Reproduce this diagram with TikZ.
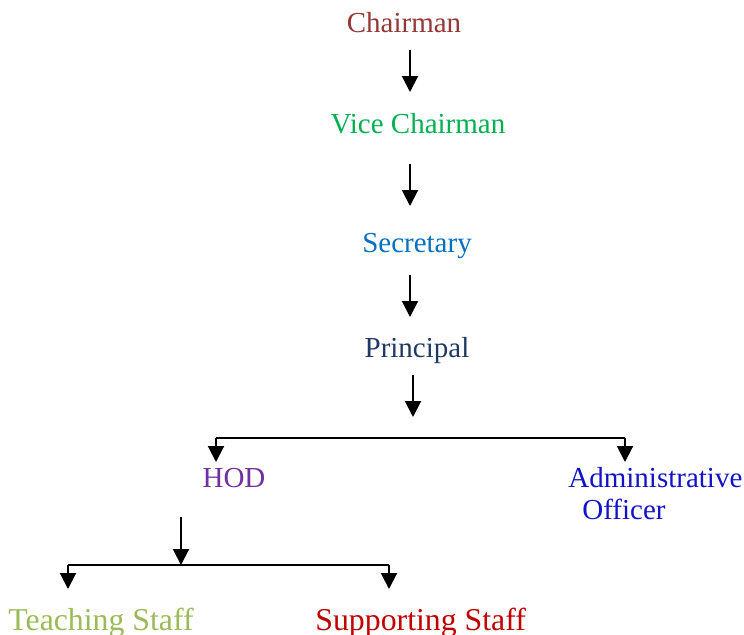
\documentclass[tikz,border=0pt]{standalone}
\usepackage{fontspec}
\setmainfont{Liberation Serif}
\usetikzlibrary{arrows.meta}
\definecolor{cChair}{HTML}{953735}
\definecolor{cVice}{HTML}{00B050}
\definecolor{cSec}{HTML}{0070C0}
\definecolor{cPrin}{HTML}{1F3864}
\definecolor{cHod}{HTML}{7030A0}
\definecolor{cAdm}{HTML}{1212C8}
\definecolor{cTeach}{HTML}{9BBB59}
\definecolor{cSupp}{HTML}{C00000}
\begin{document}
\begin{tikzpicture}[x=0.5pt,y=-0.5pt,
  lbl/.style={inner sep=0pt,font=\fontsize{14.5}{17}\selectfont},
  lblbig/.style={inner sep=0pt,font=\fontsize{15.9}{18}\selectfont},
  conn/.style={line width=1pt,black},
  arr/.style={conn,-{Triangle[length=8pt,width=8pt]}}]
\useasboundingbox (0,0) rectangle (744,634);
% labels
\node[lbl,text=cChair,anchor=base] (chair) at (404,32) {Chairman};
\node[lbl,text=cVice,anchor=base] (vice) at (418,133) {Vice Chairman};
\node[lbl,text=cSec,anchor=base] (sec) at (417,252) {Secretary};
\node[lbl,text=cPrin,anchor=base] (prin) at (417,357) {Principal};
\node[lbl,text=cHod,anchor=base] (hod) at (234,487) {HOD};
\node[lbl,text=cAdm,anchor=base west] (adm) at (568,487) {Administrative};
\node[lbl,text=cAdm,anchor=base west] (off) at (582,519) {Officer};
\node[lblbig,text=cTeach,anchor=base west] (teach) at (8,630) {Teaching Staff};
\node[lblbig,text=cSupp,anchor=base west] (supp) at (315,630) {Supporting Staff};
% connector end points
\coordinate (a1s) at (410,50);  \coordinate (a1e) at (410,92);
\coordinate (a2s) at (410,164); \coordinate (a2e) at (410,206);
\coordinate (a3s) at (410,275); \coordinate (a3e) at (410,317);
\coordinate (a4s) at (413,375); \coordinate (a4e) at (413,417);
\coordinate (h1l) at (216,438); \coordinate (h1r) at (625,438);
\coordinate (h1le) at (216,462); \coordinate (h1re) at (625,462);
\coordinate (a5s) at (181,517); \coordinate (a5e) at (181,565);
\coordinate (h2l) at (68,565);  \coordinate (h2r) at (389,565);
\coordinate (h2le) at (68,589); \coordinate (h2re) at (389,589);
% connectors
\draw[arr] (a1s) -- (a1e);
\draw[arr] (a2s) -- (a2e);
\draw[arr] (a3s) -- (a3e);
\draw[arr] (a4s) -- (a4e);
\draw[conn] (h1l) -- (h1r);
\draw[arr] (h1l) -- (h1le);
\draw[arr] (h1r) -- (h1re);
\draw[arr] (a5s) -- (a5e);
\draw[conn] (h2l) -- (h2r);
\draw[arr] (h2l) -- (h2le);
\draw[arr] (h2r) -- (h2re);
\end{tikzpicture}
\end{document}
